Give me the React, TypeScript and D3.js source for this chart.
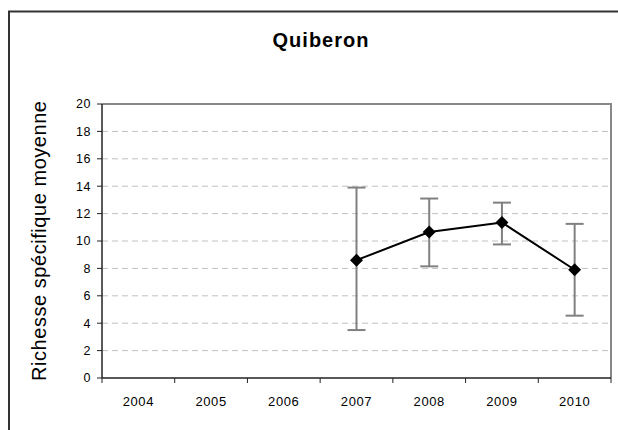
import React from "react";
import * as d3 from "d3";

const categories = ["2004", "2005", "2006", "2007", "2008", "2009", "2010"];
const means: (number | null)[] = [null, null, null, 8.6, 10.65, 11.35, 7.9];
const upper: (number | null)[] = [null, null, null, 13.9, 13.1, 12.8, 11.25];
const lower: (number | null)[] = [null, null, null, 3.5, 8.15, 9.75, 4.55];
const yTicks = [0, 2, 4, 6, 8, 10, 12, 14, 16, 18, 20];
const title = "Quiberon";
const yLabel = "Richesse spécifique moyenne";

export default function App() {
  const W = 618, H = 430;
  const left = 102, right = 611, top = 104, bottom = 378;
  const x = d3.scaleBand<string>().domain(categories).range([left, right]).padding(0);
  const y = d3.scaleLinear().domain([0, 20]).range([bottom, top]);
  const cx = (c: string) => (x(c) as number) + x.bandwidth() / 2;

  const pts = categories
    .map((c, i) => ({ c, v: means[i], u: upper[i], l: lower[i] }))
    .filter((d) => d.v !== null) as { c: string; v: number; u: number; l: number }[];

  const line = d3
    .line<{ c: string; v: number }>()
    .x((d) => cx(d.c))
    .y((d) => y(d.v));

  const font = "Arial, 'Liberation Sans', sans-serif";
  const bounds = categories.map((c) => x(c) as number).concat([right]);

  return (
    <svg width={W} height={H} style={{ position: "absolute", left: 0, top: 0 }}>
      <rect x={0} y={0} width={W} height={H} fill="#fff" />
      {/* outer frame */}
      <path d={`M9,${H + 5} V11.5 H${W + 5}`} fill="none" stroke="#333" strokeWidth={2} />
      <text x={321} y={47} textAnchor="middle" fontFamily={font} fontWeight="bold" fontSize={20} letterSpacing={1} fill="#000">
        {title}
      </text>
      {/* gridlines */}
      {yTicks.slice(1, -1).map((t) => (
        <line key={t} x1={left} x2={right} y1={y(t)} y2={y(t)} stroke="#c0c0c0" strokeWidth={1} strokeDasharray="6,4" />
      ))}
      {/* plot border top/right */}
      <path d={`M${left},${top} H${right} V${bottom}`} fill="none" stroke="#888" strokeWidth={2} />
      {/* axes */}
      <line x1={left} x2={left} y1={top} y2={bottom} stroke="#222" strokeWidth={1.5} />
      <line x1={left} x2={right} y1={bottom} y2={bottom} stroke="#222" strokeWidth={1.5} />
      {yTicks.map((t) => (
        <g key={t}>
          <line x1={left - 5} x2={left} y1={y(t)} y2={y(t)} stroke="#222" strokeWidth={1} />
          <text x={91} y={y(t) + 4.3} textAnchor="end" fontFamily={font} fontSize={12.5} letterSpacing={0.6} fill="#000">
            {t}
          </text>
        </g>
      ))}
      {bounds.map((b, i) => (
        <line key={i} x1={b} x2={b} y1={bottom} y2={bottom + 5} stroke="#222" strokeWidth={1} />
      ))}
      {categories.map((c) => (
        <text key={c} x={cx(c)} y={406} textAnchor="middle" fontFamily={font} fontSize={13} letterSpacing={0.6} fill="#000">
          {c}
        </text>
      ))}
      <text
        transform={`translate(46,${(top + bottom) / 2}) rotate(-90)`}
        textAnchor="middle"
        fontFamily={font}
        fontSize={20}
        textLength={280}
        lengthAdjust="spacing"
        fill="#000"
      >
        {yLabel}
      </text>
      {/* error bars */}
      {pts.map((d) => (
        <g key={d.c} stroke="#808080" strokeWidth={2}>
          <line x1={cx(d.c)} x2={cx(d.c)} y1={y(d.u)} y2={y(d.l)} />
          <line x1={cx(d.c) - 9} x2={cx(d.c) + 9} y1={y(d.u)} y2={y(d.u)} />
          <line x1={cx(d.c) - 9} x2={cx(d.c) + 9} y1={y(d.l)} y2={y(d.l)} />
        </g>
      ))}
      <path d={line(pts) || ""} fill="none" stroke="#000" strokeWidth={2} />
      {pts.map((d) => {
        const px = cx(d.c), py = y(d.v), r = 6.5;
        return <path key={d.c} d={`M${px},${py - r} L${px + r},${py} L${px},${py + r} L${px - r},${py} Z`} fill="#000" />;
      })}
    </svg>
  );
}
